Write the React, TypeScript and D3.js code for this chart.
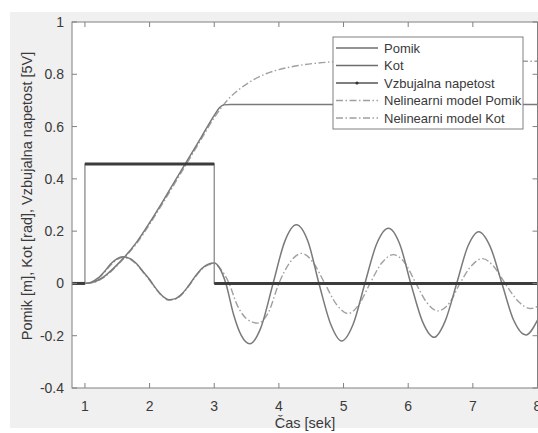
import React from "react";
import * as d3 from "d3";

// ---- data ----
const xTicks = [1, 2, 3, 4, 5, 6, 7, 8];
const yTicks = [-0.4, -0.2, 0, 0.2, 0.4, 0.6, 0.8, 1];

const pomikT = [0.8, 1.0, 1.1, 1.2, 1.3, 1.4, 1.5, 1.6, 1.8, 2.0, 2.2, 2.4, 2.6, 2.8, 3.0, 3.08, 3.15, 3.25, 8.0];
const pomikV = [0, 0, 0.003, 0.012, 0.027, 0.048, 0.072, 0.098, 0.158, 0.232, 0.312, 0.395, 0.477, 0.56, 0.643, 0.672, 0.683, 0.684, 0.684];

const kotT = [0.8, 1.0, 1.1, 1.2, 1.3, 1.4, 1.5, 1.58, 1.7, 1.8, 1.9, 2.0, 2.1, 2.2, 2.3, 2.4, 2.5, 2.6, 2.7, 2.8, 2.9, 3.0, 3.08, 3.18, 3.3, 3.42, 3.55, 3.72, 3.91, 4.09, 4.27, 4.45, 4.62, 4.8, 4.97, 5.15, 5.33, 5.51, 5.695, 5.87, 6.04, 6.22, 6.4, 6.57, 6.75, 6.92, 7.09, 7.27, 7.45, 7.63, 7.82, 8.0];
const kotV = [0, 0, 0.005, 0.02, 0.045, 0.075, 0.095, 0.102, 0.095, 0.075, 0.045, 0.015, -0.02, -0.048, -0.062, -0.058, -0.04, -0.01, 0.025, 0.055, 0.073, 0.078, 0.06, 0.0, -0.12, -0.2, -0.231, -0.17, 0.0, 0.16, 0.224, 0.16, 0.0, -0.155, -0.22, -0.155, 0.0, 0.15, 0.211, 0.15, 0.0, -0.145, -0.206, -0.145, 0.0, 0.14, 0.198, 0.14, 0.0, -0.14, -0.197, -0.14];

const voltT = [0.8, 1, 1, 3, 3, 8];
const voltV = [0, 0, 0.457, 0.457, 0, 0];

const nlPomikT = [0.8, 1.0, 1.1, 1.2, 1.3, 1.4, 1.5, 1.6, 1.8, 2.0, 2.2, 2.4, 2.6, 2.8, 3.0, 3.2, 3.4, 3.6, 3.8, 4.0, 4.2, 4.4, 4.6, 4.8, 5.0, 5.5, 8.0];
const nlPomikV = [0, 0, 0.002, 0.01, 0.024, 0.045, 0.069, 0.095, 0.153, 0.226, 0.305, 0.387, 0.469, 0.552, 0.634, 0.7, 0.745, 0.778, 0.802, 0.818, 0.829, 0.837, 0.843, 0.847, 0.849, 0.85, 0.85];

const nlKotT = [0.8, 1.0, 1.1, 1.2, 1.3, 1.4, 1.5, 1.58, 1.7, 1.8, 1.9, 2.0, 2.1, 2.2, 2.3, 2.4, 2.5, 2.6, 2.7, 2.8, 2.9, 3.0, 3.08, 3.23, 3.35, 3.5, 3.67, 3.84, 4.0, 4.17, 4.35, 4.53, 4.71, 4.89, 5.07, 5.24, 5.41, 5.59, 5.77, 5.95, 6.12, 6.29, 6.46, 6.64, 6.8, 6.98, 7.15, 7.32, 7.5, 7.7, 7.9, 8.0];
const nlKotV = [0, 0, 0.004, 0.018, 0.042, 0.07, 0.092, 0.099, 0.092, 0.072, 0.043, 0.012, -0.022, -0.05, -0.064, -0.06, -0.042, -0.012, 0.022, 0.052, 0.07, 0.075, 0.06, 0.0, -0.08, -0.135, -0.152, -0.11, 0.0, 0.08, 0.115, 0.08, 0.0, -0.08, -0.115, -0.08, 0.0, 0.078, 0.11, 0.078, 0.0, -0.074, -0.105, -0.074, 0.0, 0.068, 0.095, 0.066, 0.0, -0.068, -0.096, -0.088];

const legendLabels = ["Pomik", "Kot", "Vzbujalna napetost", "Nelinearni model Pomik", "Nelinearni model Kot"];

const W = 538, H = 433;
const L = 72, R = 537.5, T = 22, B = 388;
const FONT = "'Liberation Sans', Arial, sans-serif";

const zip = (t: number[], v: number[]) => t.map((x, i) => [x, v[i]] as [number, number]);

export default function App() {
  const x = d3.scaleLinear().domain([0.8, 8]).range([L, R]);
  const y = d3.scaleLinear().domain([-0.4, 1]).range([B, T]);
  const line = d3.line<[number, number]>().x(d => x(d[0])).y(d => y(d[1])).curve(d3.curveMonotoneX);
  const lineLin = d3.line<[number, number]>().x(d => x(d[0])).y(d => y(d[1]));

  const volt = zip(voltT, voltV);
  const horiz: [number, number][][] = [];
  for (let i = 0; i < volt.length - 1; i++) {
    if (volt[i][1] === volt[i + 1][1]) horiz.push([volt[i], volt[i + 1]]);
  }

  const solid = "#7a7a7a";
  const dashCol = "#a0a0a0";
  const dash = "7 2.5 1.5 2.5";

  const legY = [48, 65.5, 83, 100.5, 118];
  const legStyles = [
    { stroke: "#6e6e6e", dashArr: undefined as string | undefined, marker: false },
    { stroke: "#6e6e6e", dashArr: undefined, marker: false },
    { stroke: "#555", dashArr: undefined, marker: true },
    { stroke: dashCol, dashArr: dash, marker: false },
    { stroke: dashCol, dashArr: dash, marker: false },
  ];

  return (
    <svg width={W} height={H} style={{ position: "absolute", left: 0, top: 0 }} fontFamily={FONT}>
      <rect x={0} y={0} width={W} height={H} fill="#ffffff" />
      <rect x={10} y={12} width={W - 10} height={416} fill="#f0f0f0" />
      <rect x={L} y={T} width={R - L} height={B - T} fill="#ffffff" />

      {/* curves */}
      <g fill="none">
        <path d={line(zip(nlKotT, nlKotV)) || ""} stroke={dashCol} strokeWidth={1.4} strokeDasharray={dash} />
        <path d={line(zip(nlPomikT, nlPomikV)) || ""} stroke={dashCol} strokeWidth={1.4} strokeDasharray={dash} />
        <path d={line(zip(kotT, kotV)) || ""} stroke={solid} strokeWidth={1.5} />
        <path d={line(zip(pomikT, pomikV)) || ""} stroke={solid} strokeWidth={1.5} />
        <path d={lineLin(volt) || ""} stroke="#8a8a8a" strokeWidth={1.3} />
        {horiz.map((seg, i) => (
          <path key={i} d={lineLin(seg) || ""} stroke="#3c3c3c" strokeWidth={3} />
        ))}
      </g>

      {/* axes box and ticks */}
      <rect x={L} y={T} width={R - L} height={B - T} fill="none" stroke="#808080" strokeWidth={1} />
      {xTicks.map(t => (
        <g key={"x" + t}>
          <line x1={x(t)} x2={x(t)} y1={B} y2={B - 5} stroke="#808080" />
          <line x1={x(t)} x2={x(t)} y1={T} y2={T + 5} stroke="#808080" />
          <text x={x(t)} y={411} textAnchor="middle" fontSize={14} fill="#3a3a3a">{t}</text>
        </g>
      ))}
      {yTicks.map(v => (
        <g key={"y" + v}>
          <line x1={L} x2={L + 5} y1={y(v)} y2={y(v)} stroke="#808080" />
          <line x1={R} x2={R - 5} y1={y(v)} y2={y(v)} stroke="#808080" />
          <text x={64} y={y(v) + 5} textAnchor="end" fontSize={14} fill="#3a3a3a">{String(Math.round(v * 10) / 10)}</text>
        </g>
      ))}

      <text x={305} y={428} textAnchor="middle" fontSize={14.5} fill="#3a3a3a">Čas [sek]</text>
      <text transform={`translate(32,196) rotate(-90)`} textAnchor="middle" fontSize={14.5} fill="#3a3a3a">
        Pomik [m], Kot [rad], Vzbujalna napetost [5V]
      </text>

      {/* legend */}
      <rect x={333} y={37} width={190} height={92} fill="#ffffff" stroke="#808080" strokeWidth={1} />
      {legendLabels.map((lab, i) => (
        <g key={lab}>
          <line x1={336} x2={378} y1={legY[i]} y2={legY[i]} stroke={legStyles[i].stroke} strokeWidth={1.3}
            strokeDasharray={legStyles[i].dashArr} />
          {legStyles[i].marker && <circle cx={357} cy={legY[i]} r={1.6} fill="#333" />}
          <text x={384} y={legY[i] + 4.5} fontSize={13} fill="#3a3a3a">{lab}</text>
        </g>
      ))}
    </svg>
  );
}
